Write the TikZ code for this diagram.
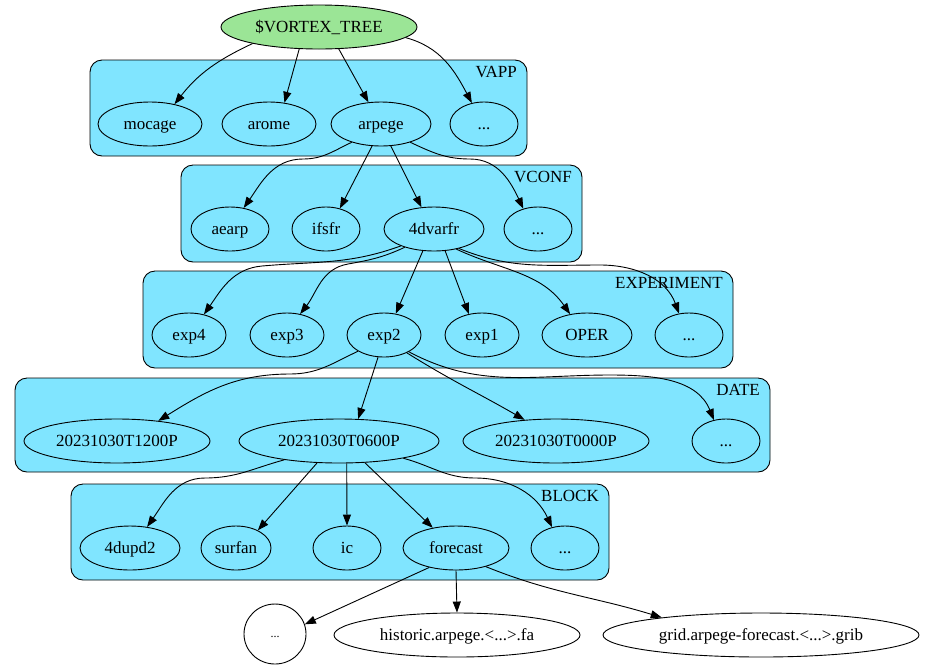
\documentclass[tikz,border=0pt]{standalone}
\usepackage{fontspec}
\setmainfont{Liberation Serif}
\usetikzlibrary{shapes.geometric,arrows.meta}
\definecolor{clfill}{RGB}{128,229,255}
\definecolor{rootfill}{RGB}{155,229,150}
\tikzset{
  el/.style={ellipse,draw,line width=0.9pt,inner sep=0pt,minimum height=44pt,text height=12pt,text depth=2pt,font=\fontsize{17}{20}\selectfont},
  cl/.style={draw,line width=0.9pt,fill=clfill,rounded corners=12pt},
  cllab/.style={anchor=north east,inner sep=0pt,font=\fontsize{17}{20}\selectfont},
  edge/.style={line width=0.9pt,-{Triangle[length=11pt,width=8pt]}}
}
\begin{document}
\begin{tikzpicture}[x=1pt,y=1pt]
\useasboundingbox (0,0) rectangle (925,-665);
% clusters
\path[cl] (90,-60) rectangle (527,-156);
\node[cllab] (lvapp) at (517,-66) {VAPP};
\path[cl] (181,-165) rectangle (582,-262);
\node[cllab] (lvconf) at (572,-171) {VCONF};
\path[cl] (143,-271) rectangle (733,-368);
\node[cllab] (lexp) at (723,-277) {EXPERIMENT};
\path[cl] (15,-378) rectangle (770,-472);
\node[cllab] (ldate) at (760,-384) {DATE};
\path[cl] (71,-484) rectangle (609,-580);
\node[cllab] (lblock) at (599,-490) {BLOCK};
% nodes
\node[el,fill=rootfill,minimum width=196pt] (root) at (319,-27) {\$VORTEX\_TREE};
\node[el,minimum width=104pt] (mocage) at (150,-124) {mocage};
\node[el,minimum width=94pt] (arome) at (269,-124) {arome};
\node[el,minimum width=100pt] (arpege) at (381,-124) {arpege};
\node[el,minimum width=68pt] (vappx) at (484,-124) {...};
\node[el,minimum width=78pt] (aearp) at (230,-229) {aearp};
\node[el,minimum width=68pt] (ifsfr) at (326,-229) {ifsfr};
\node[el,minimum width=100pt] (dvarfr) at (434,-229) {4dvarfr};
\node[el,minimum width=68pt] (vconfx) at (538,-229) {...};
\node[el,minimum width=74pt] (exp4) at (189,-335) {exp4};
\node[el,minimum width=74pt] (exp3) at (287,-335) {exp3};
\node[el,minimum width=74pt] (exp2) at (384,-335) {exp2};
\node[el,minimum width=74pt] (exp1) at (482,-335) {exp1};
\node[el,minimum width=90pt] (oper) at (587,-335) {OPER};
\node[el,minimum width=68pt] (expx) at (689,-335) {...};
\node[el,minimum width=186pt] (d1200) at (117,-441) {20231030T1200P};
\node[el,minimum width=200pt] (d0600) at (339,-441) {20231030T0600P};
\node[el,minimum width=186pt] (d0000) at (556,-441) {20231030T0000P};
\node[el,minimum width=68pt] (datex) at (726,-441) {...};
\node[el,minimum width=100pt] (upd) at (130,-548) {4dupd2};
\node[el,minimum width=70pt] (surfan) at (236,-548) {surfan};
\node[el,minimum width=68pt] (ic) at (347,-548) {ic};
\node[el,minimum width=106pt] (forecast) at (456,-548) {forecast};
\node[el,minimum width=68pt] (blockx) at (565,-548) {...};
\node[el,fill=white,minimum width=62pt,minimum height=60pt,text height=8pt,text depth=1pt,font=\fontsize{12}{14}\selectfont] (leafx) at (275,-634) {...};
\node[el,fill=white,minimum width=246pt] (historic) at (457,-635) {historic.arpege.<...>.fa};
\node[el,fill=white,minimum width=316pt] (grid) at (761,-635) {grid.arpege-forecast.<...>.grib};
% waypoints between clusters
\coordinate (w1) at (303,-159);
\coordinate (w2) at (470,-159);
\coordinate (w3) at (262,-266);
\coordinate (w4) at (348,-264);
\coordinate (w5) at (600,-265);
\coordinate (w6) at (290,-374);
\coordinate (w7) at (610,-375);
\coordinate (w8) at (205,-478);
\coordinate (w9) at (475,-478);
% edges
\draw[edge] (root.194) to[out=205,in=52] (mocage.39);
\draw[edge] (root.228) -- (arome.54);
\draw[edge] (root.312) -- (arpege.120);
\draw[edge] (root.353) to[out=-15,in=118] (vappx.120);
\draw[edge] (arpege.212) to[out=205,in=0] (w1) to[out=180,in=55] (aearp.57);
\draw[edge] (arpege.248) -- (ifsfr.56);
\draw[edge] (arpege.294) -- (dvarfr.120);
\draw[edge] (arpege.328) to[out=-25,in=180] (w2) to[out=0,in=115] (vconfx.126);
\draw[edge] (dvarfr.207) to[out=200,in=5] (w3) to[out=185,in=55] (exp4.54);
\draw[edge] (dvarfr.212) to[out=205,in=10] (w4) to[out=190,in=52] (exp3.58);
\draw[edge] (dvarfr.243) -- (exp2.61);
\draw[edge] (dvarfr.297) -- (exp1.122);
\draw[edge] (dvarfr.318) to[out=-25,in=125] (oper.129);
\draw[edge] (dvarfr.322) to[out=-22,in=180] (w5) to[out=0,in=110] (expx.115);
\draw[edge] (exp2.212) to[out=205,in=0] (w6) to[out=180,in=32] (d1200.26);
\draw[edge] (exp2.255) -- (d0600.49);
\draw[edge] (exp2.322) to[out=-32,in=150] (d0000.146);
\draw[edge] (exp2.326) to[out=-28,in=180] (w7) to[out=0,in=112] (datex.120);
\draw[edge] (d0600.199) to[out=195,in=0] (w8) to[out=180,in=55] (upd.51);
\draw[edge] (d0600.225) -- (surfan.39);
\draw[edge] (d0600.289) -- (ic.north);
\draw[edge] (d0600.320) -- (forecast.139);
\draw[edge] (d0600.345) to[out=-15,in=180] (w9) to[out=0,in=115] (blockx.122);
\draw[edge] (forecast.216) -- (leafx.18);
\draw[edge] (forecast.270) -- (historic.north);
\draw[edge] (forecast.328) to[out=-22,in=163] (grid.170);
\end{tikzpicture}
\end{document}
